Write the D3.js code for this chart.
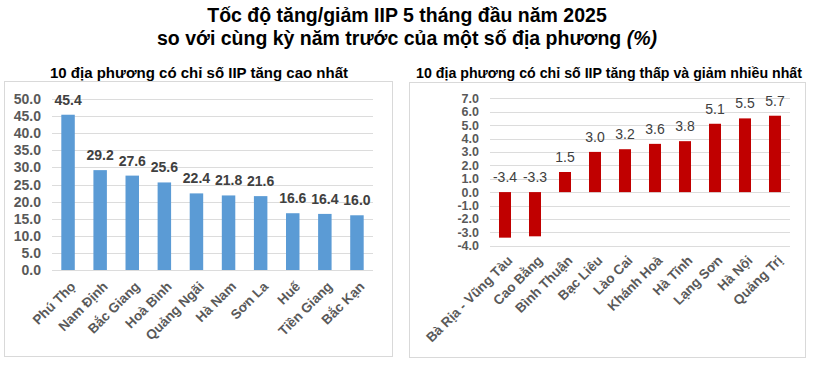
<!DOCTYPE html>
<html>
<head>
<meta charset="utf-8">
<script src="https://cdn.jsdelivr.net/npm/d3@7"></script>
<style>
  body { margin: 0; background: #fff; }
  svg { display: block; font-family: Arial, "Liberation Sans", sans-serif; }
</style>
</head>
<body>
<svg width="813" height="365"></svg>
<script>
var topNames = ["Phú Thọ", "Nam Định", "Bắc Giang", "Hoà Bình", "Quảng Ngãi", "Hà Nam", "Sơn La", "Huế", "Tiền Giang", "Bắc Kạn"];
var topValues = [45.4, 29.2, 27.6, 25.6, 22.4, 21.8, 21.6, 16.6, 16.4, 16.0];
var topTicks = [0, 5, 10, 15, 20, 25, 30, 35, 40, 45, 50];

var lowNames = ["Bà Rịa - Vũng Tàu", "Cao Bằng", "Bình Thuận", "Bạc Liêu", "Lào Cai", "Khánh Hoà", "Hà Tĩnh", "Lạng Sơn", "Hà Nội", "Quảng Trị"];
var lowValues = [-3.4, -3.3, 1.5, 3.0, 3.2, 3.6, 3.8, 5.1, 5.5, 5.7];
var lowTicks = [-4, -3, -2, -1, 0, 1, 2, 3, 4, 5, 6, 7];

var svg = d3.select("svg");

// main title
var title = svg.append("text")
  .attr("x", 407).attr("text-anchor", "middle")
  .attr("font-size", 19.5).attr("font-weight", "bold").attr("fill", "#000");
title.append("tspan").attr("x", 407).attr("y", 22).text("Tốc độ tăng/giảm IIP 5 tháng đầu năm 2025");
var l2 = title.append("tspan").attr("x", 407).attr("y", 45);
l2.append("tspan").text("so với cùng kỳ năm trước của một số địa phương ");
l2.append("tspan").attr("font-style", "italic").text("(%)");

function panel(opt) {
  // frame
  svg.append("rect")
    .attr("x", opt.box[0] + 0.5).attr("y", opt.box[1] + 0.5)
    .attr("width", opt.box[2] - opt.box[0]).attr("height", opt.box[3] - opt.box[1])
    .attr("fill", "none").attr("stroke", "#d9d9d9");

  svg.append("text")
    .attr("x", opt.titleX).attr("y", 78)
    .attr("text-anchor", "middle")
    .attr("font-size", opt.titleSize).attr("font-weight", "bold").attr("fill", "#000")
    .text(opt.title);

  var x = d3.scaleBand().domain(opt.names).range([opt.x0, opt.x1]).paddingInner(opt.pad).paddingOuter(opt.pad / 2);
  var y = d3.scaleLinear().domain(opt.domain).range([opt.y0, opt.y1]);

  var g = svg.append("g");

  // gridlines
  g.append("g")
    .selectAll("line")
    .data(opt.ticks)
    .join("line")
    .attr("x1", opt.x0).attr("x2", opt.x1)
    .attr("y1", function(d) { return Math.round(y(d)) + 0.5; })
    .attr("y2", function(d) { return Math.round(y(d)) + 0.5; })
    .attr("stroke", "#dcdcdc");

  // y tick labels
  g.append("g")
    .selectAll("text")
    .data(opt.ticks)
    .join("text")
    .attr("x", opt.x0 - 11)
    .attr("y", function(d) { return y(d); })
    .attr("dy", "0.36em")
    .attr("text-anchor", "end")
    .attr("font-size", opt.tickSize).attr("font-weight", "bold").attr("fill", "#595959")
    .text(function(d) { return d.toFixed(1); });

  var data = opt.names.map(function(n, i) { return { name: n, value: opt.values[i] }; });

  g.append("g")
    .selectAll("rect")
    .data(data)
    .join("rect")
    .attr("x", function(d) { return x(d.name); })
    .attr("width", x.bandwidth())
    .attr("y", function(d) { return y(Math.max(0, d.value)); })
    .attr("height", function(d) { return Math.abs(y(d.value) - y(0)); })
    .attr("fill", opt.color);

  // value labels
  g.append("g")
    .selectAll("text")
    .data(data)
    .join("text")
    .attr("x", function(d) { return x(d.name) + x.bandwidth() / 2; })
    .attr("y", function(d) { return (d.value < 0 ? y(0) : y(d.value)) - 10; })
    .attr("text-anchor", "middle")
    .attr("font-size", 14).attr("font-weight", opt.labelWeight).attr("fill", "#404040")
    .text(function(d) { return d.value.toFixed(1); });

  // category labels
  g.append("g")
    .selectAll("text")
    .data(data)
    .join("text")
    .attr("transform", function(d) {
      return "translate(" + (x(d.name) + x.bandwidth() / 2 + 5) + "," + opt.labelY + ") rotate(-45)";
    })
    .attr("text-anchor", "end")
    .attr("dy", "0.35em")
    .attr("font-size", 13.5).attr("font-weight", "bold").attr("fill", "#595959")
    .text(function(d) { return d.name; });
}

panel({
  box: [4, 81, 392, 356], title: "10 địa phương có chỉ số IIP tăng cao nhất", titleX: 199, titleSize: 15,
  names: topNames, values: topValues, ticks: topTicks, domain: [0, 50], tickSize: 14,
  x0: 52, x1: 373, y0: 270, y1: 99, pad: 0.58, color: "#5b9bd5", labelWeight: "bold", labelY: 284
});

panel({
  box: [409, 82, 805, 357], title: "10 địa phương có chỉ số IIP tăng thấp và giảm nhiều nhất", titleX: 609, titleSize: 14.2,
  names: lowNames, values: lowValues, ticks: lowTicks, domain: [-4, 7], tickSize: 12.5,
  x0: 490, x1: 790, y0: 245.7, y1: 98.3, pad: 0.6, color: "#c00000", labelWeight: "normal", labelY: 258
});
</script>
</body>
</html>
